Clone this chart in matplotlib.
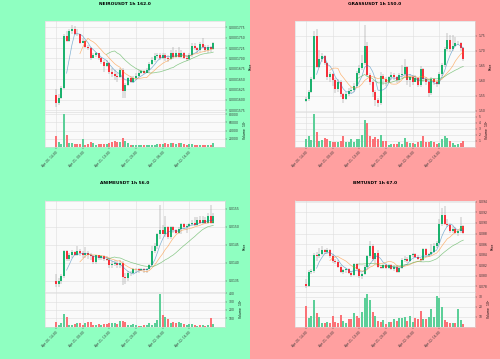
import matplotlib
matplotlib.use('Agg')
import matplotlib.pyplot as plt
import numpy as np
import pandas as pd
from matplotlib.patches import Rectangle

# ---------------- data ----------------
time_labels = ['Apr 20, 14:00', 'Apr 21, 00:00', 'Apr 21, 10:00',
               'Apr 21, 20:00', 'Apr 22, 06:00', 'Apr 22, 16:00']
tick_idx = [0, 10, 20, 30, 40, 50]

neiro_open = [0.0001611, 0.0001591, 0.0001603, 0.0001629, 0.0001754, 0.0001743, 0.0001765, 0.0001772, 0.0001760, 0.0001758,
              0.0001738, 0.0001743, 0.0001728, 0.0001724, 0.0001702, 0.0001708, 0.0001712, 0.0001700, 0.0001692, 0.0001682,
              0.0001688, 0.0001668, 0.0001662, 0.0001657, 0.0001654, 0.0001672, 0.0001622, 0.0001636, 0.0001652, 0.0001644,
              0.0001652, 0.0001657, 0.0001665, 0.0001669, 0.0001665, 0.0001672, 0.0001686, 0.0001696, 0.0001706, 0.0001708,
              0.0001702, 0.0001708, 0.0001702, 0.0001698, 0.0001714, 0.0001704, 0.0001712, 0.0001704, 0.0001712, 0.0001702,
              0.0001698, 0.0001708, 0.0001730, 0.0001724, 0.0001719, 0.0001734, 0.0001728, 0.0001720, 0.0001727, 0.0001722]
neiro_high = [0.0001627, 0.0001614, 0.0001633, 0.0001760, 0.0001767, 0.0001770, 0.0001781, 0.0001778, 0.0001770, 0.0001760,
              0.0001748, 0.0001744, 0.0001732, 0.0001728, 0.0001712, 0.0001716, 0.0001714, 0.0001704, 0.0001696, 0.0001696,
              0.0001690, 0.0001676, 0.0001672, 0.0001665, 0.0001676, 0.0001676, 0.0001641, 0.0001656, 0.0001657, 0.0001657,
              0.0001664, 0.0001672, 0.0001673, 0.0001673, 0.0001676, 0.0001690, 0.0001704, 0.0001712, 0.0001714, 0.0001712,
              0.0001714, 0.0001712, 0.0001708, 0.0001720, 0.0001728, 0.0001720, 0.0001728, 0.0001720, 0.0001716, 0.0001708,
              0.0001714, 0.0001736, 0.0001736, 0.0001728, 0.0001740, 0.0001750, 0.0001732, 0.0001732, 0.0001730, 0.0001740]
neiro_low = [0.0001582, 0.0001588, 0.0001601, 0.0001627, 0.0001740, 0.0001740, 0.0001760, 0.0001756, 0.0001754, 0.0001735,
             0.0001736, 0.0001724, 0.0001720, 0.0001696, 0.0001700, 0.0001704, 0.0001696, 0.0001686, 0.0001668, 0.0001680,
             0.0001662, 0.0001656, 0.0001648, 0.0001644, 0.0001652, 0.0001603, 0.0001603, 0.0001632, 0.0001640, 0.0001642,
             0.0001648, 0.0001656, 0.0001662, 0.0001662, 0.0001664, 0.0001665, 0.0001684, 0.0001692, 0.0001700, 0.0001696,
             0.0001698, 0.0001694, 0.0001692, 0.0001696, 0.0001698, 0.0001700, 0.0001700, 0.0001700, 0.0001698, 0.0001694,
             0.0001696, 0.0001704, 0.0001720, 0.0001714, 0.0001716, 0.0001724, 0.0001716, 0.0001712, 0.0001716, 0.0001720]
neiro_close = [0.0001591, 0.0001603, 0.0001629, 0.0001754, 0.0001743, 0.0001765, 0.0001772, 0.0001760, 0.0001758, 0.0001738,
               0.0001743, 0.0001728, 0.0001724, 0.0001702, 0.0001708, 0.0001712, 0.0001700, 0.0001692, 0.0001682, 0.0001688,
               0.0001668, 0.0001662, 0.0001657, 0.0001654, 0.0001672, 0.0001622, 0.0001636, 0.0001652, 0.0001644, 0.0001652,
               0.0001657, 0.0001665, 0.0001669, 0.0001665, 0.0001672, 0.0001686, 0.0001696, 0.0001706, 0.0001708, 0.0001702,
               0.0001708, 0.0001702, 0.0001698, 0.0001714, 0.0001704, 0.0001712, 0.0001704, 0.0001712, 0.0001702, 0.0001698,
               0.0001708, 0.0001730, 0.0001724, 0.0001719, 0.0001734, 0.0001728, 0.0001720, 0.0001727, 0.0001722, 0.0001736]
neiro_vol = [26400, 12000, 8000, 80000, 30400, 8800, 8800, 7200, 7200, 7200,
             18400, 5600, 6400, 11200, 8800, 5600, 7200, 7200, 8000, 6400,
             8800, 12000, 15200, 12000, 12000, 20800, 15200, 8800, 5600, 4800,
             4000, 4000, 4000, 4800, 5600, 5600, 5600, 5600, 6400, 8000,
             7200, 8800, 7200, 8800, 10400, 8000, 10400, 10400, 7200, 5600,
             6400, 8000, 5600, 4800, 5600, 4800, 4000, 4800, 4800, 10400]

grass_open = [1.532, 1.538, 1.563, 1.606, 1.750, 1.647, 1.671, 1.682, 1.658, 1.613,
              1.621, 1.602, 1.571, 1.597, 1.554, 1.539, 1.556, 1.567, 1.569, 1.582,
              1.624, 1.641, 1.658, 1.716, 1.619, 1.597, 1.563, 1.536, 1.527, 1.616,
              1.606, 1.597, 1.611, 1.619, 1.611, 1.602, 1.619, 1.622, 1.647, 1.602,
              1.613, 1.597, 1.608, 1.586, 1.638, 1.604, 1.597, 1.560, 1.604, 1.597,
              1.589, 1.622, 1.652, 1.704, 1.736, 1.704, 1.716, 1.724, 1.727, 1.708]
grass_high = [1.547, 1.569, 1.611, 1.767, 1.771, 1.702, 1.691, 1.686, 1.663, 1.630,
              1.627, 1.608, 1.604, 1.602, 1.558, 1.563, 1.574, 1.578, 1.591, 1.633,
              1.652, 1.686, 1.786, 1.730, 1.624, 1.602, 1.569, 1.541, 1.630, 1.622,
              1.611, 1.616, 1.630, 1.627, 1.616, 1.624, 1.652, 1.671, 1.649, 1.622,
              1.619, 1.619, 1.611, 1.649, 1.641, 1.611, 1.602, 1.611, 1.608, 1.602,
              1.630, 1.660, 1.713, 1.758, 1.752, 1.752, 1.747, 1.733, 1.730, 1.713]
grass_low = [1.529, 1.533, 1.560, 1.602, 1.641, 1.641, 1.663, 1.652, 1.602, 1.597,
             1.582, 1.558, 1.563, 1.547, 1.524, 1.536, 1.550, 1.558, 1.563, 1.578,
             1.619, 1.636, 1.652, 1.613, 1.586, 1.547, 1.516, 1.513, 1.520, 1.586,
             1.582, 1.591, 1.602, 1.602, 1.591, 1.594, 1.608, 1.616, 1.586, 1.578,
             1.586, 1.594, 1.578, 1.580, 1.597, 1.586, 1.547, 1.552, 1.586, 1.580,
             1.586, 1.616, 1.647, 1.700, 1.697, 1.700, 1.713, 1.719, 1.700, 1.667]
grass_close = [1.538, 1.563, 1.606, 1.750, 1.647, 1.671, 1.682, 1.658, 1.613, 1.621,
               1.602, 1.571, 1.597, 1.554, 1.539, 1.556, 1.567, 1.569, 1.582, 1.624,
               1.641, 1.658, 1.716, 1.619, 1.597, 1.563, 1.536, 1.527, 1.616, 1.606,
               1.597, 1.611, 1.619, 1.611, 1.602, 1.619, 1.622, 1.647, 1.602, 1.613,
               1.597, 1.608, 1.586, 1.638, 1.604, 1.597, 1.560, 1.604, 1.597, 1.589,
               1.622, 1.652, 1.704, 1.736, 1.704, 1.716, 1.724, 1.727, 1.708, 1.671]
grass_vol = [1.39, 1.82, 1.18, 5.40, 2.46, 1.02, 1.18, 1.55, 1.28, 1.02,
             0.86, 0.86, 0.86, 1.02, 1.82, 0.75, 0.86, 1.39, 0.75, 1.39,
             1.28, 1.93, 4.49, 4.06, 1.82, 1.28, 1.71, 1.28, 1.93, 1.02,
             1.02, 0.32, 0.43, 0.53, 0.43, 0.75, 0.48, 1.55, 0.75, 0.64,
             0.64, 0.48, 0.75, 1.02, 1.82, 0.75, 0.75, 1.02, 0.75, 0.43,
             0.64, 1.28, 1.82, 1.55, 1.02, 0.64, 0.32, 0.43, 0.64, 0.96]

anime_open = [0.013509, 0.013426, 0.013491, 0.013630, 0.014324, 0.014111, 0.014204, 0.014296, 0.014204, 0.014324,
              0.014259, 0.014204, 0.014278, 0.014204, 0.014185, 0.014018, 0.014204, 0.014139, 0.014185, 0.014111,
              0.014092, 0.013926, 0.013954, 0.014000, 0.013926, 0.014000, 0.013611, 0.013583, 0.013704, 0.013722,
              0.013815, 0.013833, 0.013796, 0.013833, 0.013796, 0.013833, 0.013944, 0.014315, 0.014463, 0.014806,
              0.014907, 0.014806, 0.014991, 0.014722, 0.014991, 0.014907, 0.014833, 0.014926, 0.015083, 0.014991,
              0.015019, 0.015083, 0.015111, 0.015037, 0.015185, 0.015111, 0.015185, 0.015111, 0.015296, 0.015111]
anime_high = [0.013676, 0.013583, 0.013676, 0.014352, 0.014352, 0.014259, 0.014352, 0.014324, 0.014463, 0.014370,
              0.014324, 0.014444, 0.014324, 0.014259, 0.014231, 0.014231, 0.014231, 0.014231, 0.014231, 0.014185,
              0.014139, 0.014046, 0.014092, 0.014046, 0.014092, 0.014046, 0.013722, 0.013768, 0.013768, 0.013861,
              0.013861, 0.013861, 0.013861, 0.013861, 0.013861, 0.013954, 0.014463, 0.014556, 0.014833, 0.015593,
              0.015037, 0.015296, 0.015019, 0.015019, 0.015019, 0.014926, 0.014991, 0.015111, 0.015111, 0.015083,
              0.015111, 0.015185, 0.015278, 0.015278, 0.015296, 0.015296, 0.015278, 0.015389, 0.015593, 0.015389]
anime_low = [0.013333, 0.013333, 0.013417, 0.013583, 0.014046, 0.014046, 0.014139, 0.014185, 0.014185, 0.014185,
             0.014139, 0.014139, 0.014111, 0.014092, 0.013954, 0.013954, 0.014092, 0.014092, 0.014046, 0.014046,
             0.013861, 0.013861, 0.013907, 0.013861, 0.013861, 0.013398, 0.013426, 0.013509, 0.013630, 0.013676,
             0.013722, 0.013722, 0.013768, 0.013722, 0.013722, 0.013815, 0.013907, 0.014259, 0.014370, 0.014648,
             0.014806, 0.014722, 0.014648, 0.014648, 0.014833, 0.014787, 0.014787, 0.014806, 0.014926, 0.014833,
             0.014991, 0.015019, 0.015019, 0.015019, 0.015083, 0.015083, 0.015083, 0.015083, 0.015083, 0.015083]
anime_close = [0.013426, 0.013491, 0.013630, 0.014324, 0.014111, 0.014204, 0.014296, 0.014204, 0.014324, 0.014259,
               0.014204, 0.014278, 0.014204, 0.014185, 0.014018, 0.014204, 0.014139, 0.014185, 0.014111, 0.014092,
               0.013926, 0.013954, 0.014000, 0.013926, 0.014000, 0.013611, 0.013583, 0.013704, 0.013722, 0.013815,
               0.013833, 0.013796, 0.013833, 0.013796, 0.013833, 0.013944, 0.014315, 0.014463, 0.014806, 0.014907,
               0.014806, 0.014991, 0.014722, 0.014991, 0.014907, 0.014833, 0.014926, 0.015083, 0.014991, 0.015019,
               0.015083, 0.015111, 0.015037, 0.015185, 0.015111, 0.015185, 0.015111, 0.015296, 0.015111, 0.015296]
anime_vol = [49, 22, 41, 148, 109, 22, 22, 30, 38, 38,
             22, 41, 49, 49, 22, 22, 30, 22, 30, 30,
             41, 41, 38, 34, 69, 69, 57, 22, 18, 26,
             14, 10, 10, 18, 18, 41, 22, 41, 81, 385,
             136, 109, 89, 41, 57, 41, 57, 41, 30, 18,
             26, 26, 18, 10, 18, 18, 10, 18, 101, 34]

bmt_open = [0.07850, 0.07806, 0.08071, 0.08090, 0.08386, 0.08373, 0.08405, 0.08480, 0.08449, 0.08480,
            0.08373, 0.08279, 0.08260, 0.08172, 0.08071, 0.08109, 0.08121, 0.08058, 0.08014, 0.08216,
            0.08121, 0.07995, 0.08027, 0.08172, 0.08373, 0.08562, 0.08310, 0.08436, 0.08172, 0.08153,
            0.08197, 0.08153, 0.08197, 0.08134, 0.08172, 0.08071, 0.08153, 0.08291, 0.08310, 0.08279,
            0.08386, 0.08405, 0.08361, 0.08310, 0.08291, 0.08512, 0.08386, 0.08405, 0.08449, 0.08562,
            0.08625, 0.08984, 0.09142, 0.08984, 0.08953, 0.08846, 0.08877, 0.08814, 0.08846, 0.08940]
bmt_high = [0.07932, 0.08109, 0.08121, 0.08436, 0.08449, 0.08531, 0.08562, 0.08512, 0.08531, 0.08499,
            0.08405, 0.08310, 0.08291, 0.08197, 0.08134, 0.08153, 0.08153, 0.08090, 0.08247, 0.08247,
            0.08153, 0.08058, 0.08197, 0.08386, 0.08657, 0.08594, 0.08436, 0.08480, 0.08197, 0.08216,
            0.08216, 0.08216, 0.08216, 0.08197, 0.08197, 0.08172, 0.08342, 0.08373, 0.08361, 0.08386,
            0.08436, 0.08436, 0.08386, 0.08342, 0.08531, 0.08531, 0.08436, 0.08594, 0.08625, 0.08657,
            0.09066, 0.09287, 0.09318, 0.09066, 0.08984, 0.08940, 0.08921, 0.08846, 0.09110, 0.08953]
bmt_low = [0.07775, 0.07794, 0.08027, 0.08058, 0.08279, 0.08342, 0.08386, 0.08405, 0.08405, 0.08342,
           0.08247, 0.08216, 0.08153, 0.08058, 0.08027, 0.08058, 0.08027, 0.07983, 0.07995, 0.08109,
           0.07964, 0.07932, 0.08014, 0.08153, 0.08342, 0.08279, 0.08247, 0.08153, 0.08121, 0.08134,
           0.08134, 0.08121, 0.08109, 0.08090, 0.08058, 0.08058, 0.08134, 0.08260, 0.08247, 0.08260,
           0.08361, 0.08342, 0.08291, 0.08260, 0.08279, 0.08361, 0.08361, 0.08386, 0.08436, 0.08531,
           0.08594, 0.08940, 0.08953, 0.08921, 0.08814, 0.08814, 0.08783, 0.08751, 0.08814, 0.08783]
bmt_close = [0.07806, 0.08071, 0.08090, 0.08386, 0.08373, 0.08405, 0.08480, 0.08449, 0.08480, 0.08373,
             0.08279, 0.08260, 0.08172, 0.08071, 0.08109, 0.08121, 0.08058, 0.08014, 0.08216, 0.08121,
             0.07995, 0.08027, 0.08172, 0.08373, 0.08562, 0.08310, 0.08436, 0.08172, 0.08153, 0.08197,
             0.08153, 0.08197, 0.08134, 0.08172, 0.08071, 0.08153, 0.08291, 0.08310, 0.08279, 0.08386,
             0.08405, 0.08361, 0.08310, 0.08291, 0.08512, 0.08386, 0.08405, 0.08449, 0.08562, 0.08625,
             0.08984, 0.09142, 0.08984, 0.08953, 0.08846, 0.08877, 0.08814, 0.08846, 0.08940, 0.08802]
bmt_vol = [20.8, 8.4, 10.3, 26.4, 13.6, 9.3, 3.8, 3.8, 5.0, 3.8,
           11.0, 5.0, 3.8, 11.6, 6.0, 3.8, 7.7, 7.7, 13.3, 10.3,
           8.4, 14.3, 28.4, 32.3, 26.7, 14.9, 10.3, 6.0, 5.0, 6.7,
           2.8, 5.0, 4.4, 7.7, 6.0, 8.4, 8.4, 9.3, 6.0, 11.0,
           5.0, 8.4, 7.7, 15.9, 7.7, 7.7, 9.3, 17.5, 9.3, 30.7,
           29.0, 19.2, 7.0, 4.4, 3.8, 3.1, 3.1, 17.5, 7.0, 3.0]

# ---------------- style ----------------
W, H = 500, 359
UP, DOWN = '#1bb26e', '#f7323c'
VUP, VDOWN = '#5ccf98', '#fb7277'
WICK = '#8c8c8c'
GREEN_BG, PINK_BG = '#8fffc1', '#ffa0a0'
MAV = [(5, '#1f77b4'), (10, '#ff7f0e'), (20, '#2ca02c')]

fig = plt.figure(figsize=(W / 100, H / 100), dpi=100)

panels = [
    dict(col=0, row=0, bg=GREEN_BG, title='NEIROUSDT 1h 162.0', o=neiro_open, h=neiro_high, l=neiro_low,
         c=neiro_close, v=neiro_vol, ylim=(0.00015703, 0.00017903),
         yticks=[0.0001575, 0.00016, 0.0001625, 0.000165, 0.0001675, 0.00017, 0.0001725, 0.000175, 0.0001775],
         fmt='{:.7f}', vlim=(0, 85600), vticks=[20000, 40000, 60000, 80000], vexp='7'),
    dict(col=1, row=0, bg=PINK_BG, title='GRASSUSDT 1h 150.0', o=grass_open, h=grass_high, l=grass_low,
         c=grass_close, v=grass_vol, ylim=(1.4956, 1.799),
         yticks=[1.50, 1.55, 1.60, 1.65, 1.70, 1.75], fmt='{:.2f}',
         vlim=(0, 5.8), vticks=[1, 2, 3, 4, 5], vexp='5'),
    dict(col=0, row=1, bg=GREEN_BG, title='ANIMEUSDT 1h 56.0', o=anime_open, h=anime_high, l=anime_low,
         c=anime_close, v=anime_vol, ylim=(0.013204, 0.01573),
         yticks=[0.0135, 0.0140, 0.0145, 0.0150, 0.0155], fmt='{:.4f}',
         vlim=(0, 420), vticks=[100, 200, 300, 400], vexp='5'),
    dict(col=1, row=1, bg=PINK_BG, title='BMTUSDT 1h 67.0', o=bmt_open, h=bmt_high, l=bmt_low,
         c=bmt_close, v=bmt_vol, ylim=(0.07705, 0.09425),
         yticks=[0.078, 0.080, 0.082, 0.084, 0.086, 0.088, 0.090, 0.092, 0.094], fmt='{:.3f}',
         vlim=(0, 35.2), vticks=[10, 20, 30], vexp='5'),
]

PW, PH = 250, 179.5
TS = 2.2


def style_axes(ax):
    ax.set_facecolor('#fafafa')
    ax.grid(True, color='#dedede', linewidth=0.4)
    ax.set_axisbelow(True)
    for s in ax.spines.values():
        s.set_color('#d8d8d8')
        s.set_linewidth(0.4)
    ax.yaxis.tick_right()
    ax.yaxis.set_label_position('right')
    ax.tick_params(axis='both', labelsize=TS, length=1.2, width=0.3, pad=1.5, colors='#333333')


for p in panels:
    x0 = PW * p['col']
    y0 = PH * p['row']
    fig.patches.append(Rectangle((x0 / W, 1 - (y0 + PH) / H), PW / W, PH / H,
                                 transform=fig.transFigure, facecolor=p['bg'], edgecolor='none', zorder=-10))
    fig.text((x0 + 125) / W, 1 - (y0 + 3.6) / H, p['title'], fontsize=3.2, fontweight='bold',
             ha='center', va='center')

    axp = fig.add_axes([(x0 + 45) / W, 1 - (y0 + 112) / H, 180 / W, 91 / H])
    axv = fig.add_axes([(x0 + 45) / W, 1 - (y0 + 147) / H, 180 / W, 35 / H], sharex=axp)
    style_axes(axp)
    style_axes(axv)

    o = np.array(p['o']); h = np.array(p['h']); l = np.array(p['l']); c = np.array(p['c'])
    v = np.array(p['v'])
    n = len(c)
    x = np.arange(n)
    up = c >= o
    axp.vlines(x, l, h, color=WICK, linewidth=0.35, zorder=2)
    axp.bar(x, np.maximum(np.abs(c - o), (p['ylim'][1] - p['ylim'][0]) * 0.004),
            bottom=np.minimum(o, c), width=0.7,
            color=np.where(up, UP, DOWN), linewidth=0, zorder=3)
    cs = pd.Series(c)
    for win, col in MAV:
        axp.plot(x, cs.rolling(win).mean(), color=col, alpha=0.55, linewidth=0.5, zorder=4)

    axv.bar(x, v, width=0.7, color=np.where(up, VUP, VDOWN), linewidth=0, zorder=3)

    axp.set_xlim(-4.1, 63.4)
    axp.set_ylim(*p['ylim'])
    axp.set_yticks(p['yticks'])
    axp.set_yticklabels([p['fmt'].format(t) for t in p['yticks']])
    axp.set_ylabel('Price', fontsize=TS, labelpad=2)
    axp.tick_params(axis='x', labelbottom=False, length=0)

    axv.set_ylim(*p['vlim'])
    axv.set_yticks(p['vticks'])
    axv.set_yticklabels([str(t) for t in p['vticks']])
    axv.set_ylabel('Volume  $10^{' + p['vexp'] + '}$', fontsize=TS, labelpad=2)
    axv.set_xticks(tick_idx)
    axv.set_xticklabels(time_labels, rotation=45, ha='right', rotation_mode='anchor', fontsize=TS)

fig.savefig('out.png', dpi=100)
